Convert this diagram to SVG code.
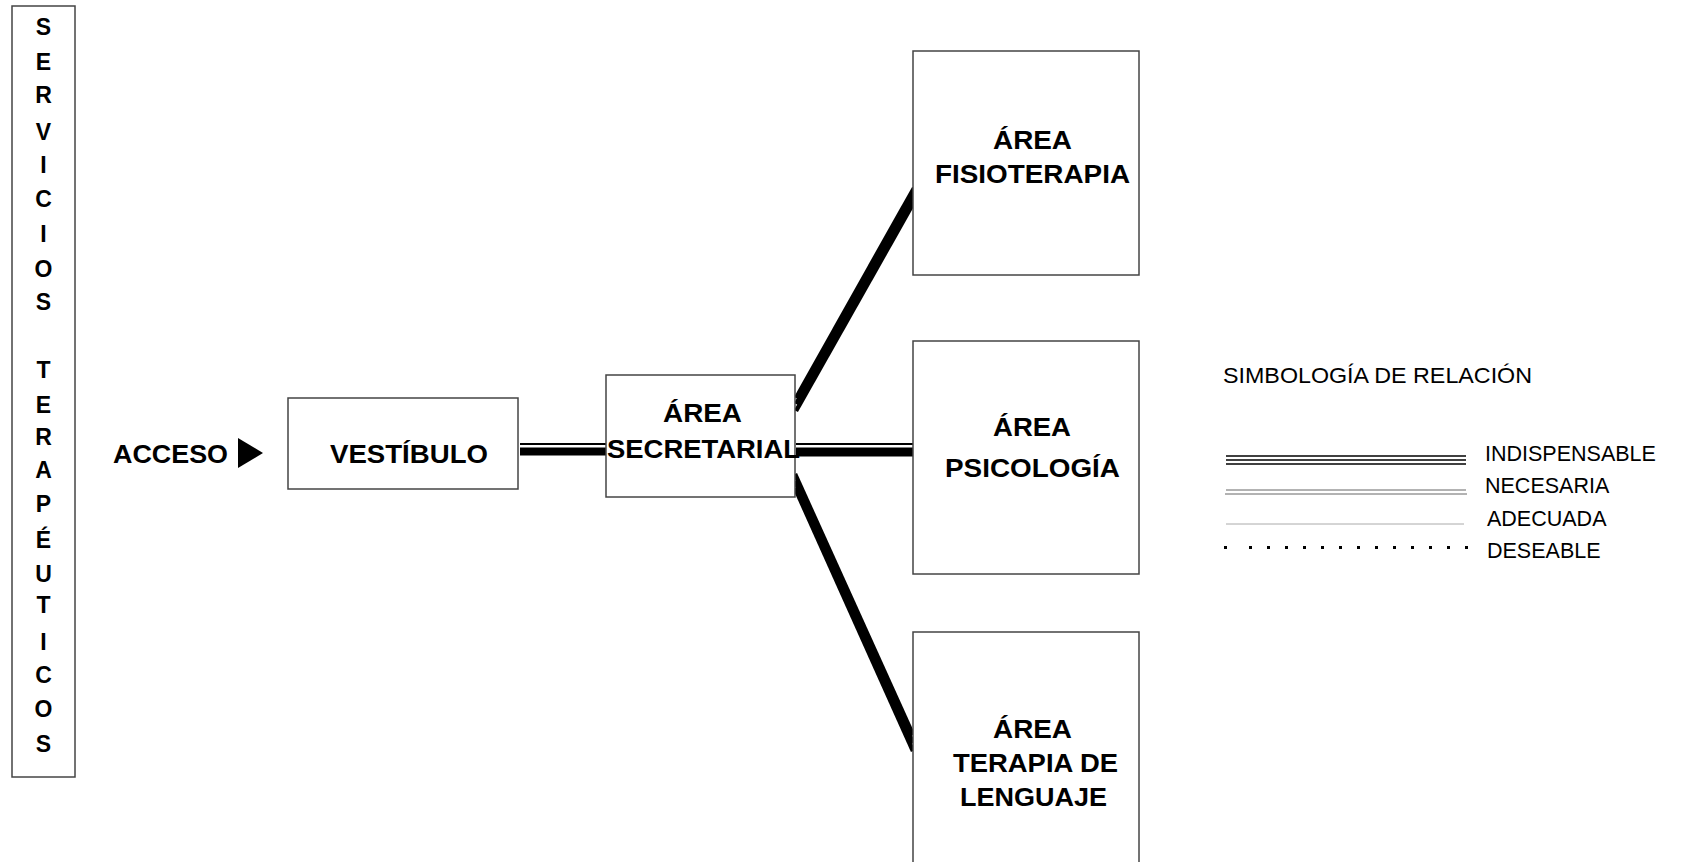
<svg xmlns="http://www.w3.org/2000/svg" width="1684" height="862" viewBox="0 0 1684 862">
<style>
.box{fill:#fff;stroke:#444;stroke-width:1.5}
.lbl{font-family:"Liberation Sans",Arial,sans-serif;font-weight:bold;font-size:26px;fill:#000}
.vt{font-family:"Liberation Sans",Arial,sans-serif;font-weight:bold;font-size:23px;fill:#000;text-anchor:middle}
.leg{font-family:"Liberation Sans",Arial,sans-serif;font-size:21.5px;fill:#000}
.con{stroke:#000;fill:none}
</style>
<rect width="1684" height="862" fill="#fff"/>
<g id="servicios">
<rect class="box" x="12" y="6" width="63" height="771"/>
<text class="vt" x="43.5" y="35">S</text>
<text class="vt" x="43.5" y="70">E</text>
<text class="vt" x="43.5" y="103">R</text>
<text class="vt" x="43.5" y="140">V</text>
<text class="vt" x="43.5" y="173">I</text>
<text class="vt" x="43.5" y="207">C</text>
<text class="vt" x="43.5" y="242">I</text>
<text class="vt" x="43.5" y="277">O</text>
<text class="vt" x="43.5" y="310">S</text>
<text class="vt" x="43.5" y="378">T</text>
<text class="vt" x="43.5" y="413">E</text>
<text class="vt" x="43.5" y="445">R</text>
<text class="vt" x="43.5" y="478">A</text>
<text class="vt" x="43.5" y="512">P</text>
<text class="vt" x="43.5" y="548">É</text>
<text class="vt" x="43.5" y="582">U</text>
<text class="vt" x="43.5" y="613">T</text>
<text class="vt" x="43.5" y="650">I</text>
<text class="vt" x="43.5" y="683">C</text>
<text class="vt" x="43.5" y="717">O</text>
<text class="vt" x="43.5" y="752">S</text>
</g>
<g id="acceso">
<text class="lbl" x="113" y="463" textLength="115" lengthAdjust="spacingAndGlyphs">ACCESO</text>
<polygon points="238,438 263,453 238,468" fill="#000"/>
</g>
<g id="connectors">
<line class="con" x1="520" y1="444" x2="607" y2="444" stroke-width="2"/>
<line class="con" x1="520" y1="451.5" x2="607" y2="451.5" stroke-width="8"/>
<line class="con" x1="796" y1="444" x2="915" y2="444" stroke-width="2"/>
<line class="con" x1="796" y1="452" x2="915" y2="452" stroke-width="9"/>
<line class="con" x1="796" y1="398" x2="914" y2="188" stroke-width="4.5"/>
<line class="con" x1="796" y1="404" x2="914" y2="195" stroke-width="4.5"/>
<line class="con" x1="796" y1="411" x2="914" y2="202" stroke-width="4.5"/>
<line class="con" x1="795" y1="474" x2="913" y2="735" stroke-width="4.5"/>
<line class="con" x1="795" y1="481" x2="913" y2="743" stroke-width="4.5"/>
<line class="con" x1="795" y1="488" x2="913" y2="751" stroke-width="4.5"/>
</g>
<g id="vestibulo">
<rect class="box" x="288" y="398" width="230" height="91"/>
<text class="lbl" x="330" y="463" textLength="158" lengthAdjust="spacingAndGlyphs">VESTÍBULO</text>
</g>
<g id="secretarial">
<rect class="box" x="606" y="375" width="189" height="122"/>
<text class="lbl" x="663" y="422" textLength="79" lengthAdjust="spacingAndGlyphs">ÁREA</text>
<text class="lbl" x="607" y="458" textLength="193" lengthAdjust="spacingAndGlyphs">SECRETARIAL</text>
</g>
<g id="fisioterapia">
<rect class="box" x="913" y="51" width="226" height="224"/>
<text class="lbl" x="993" y="149" textLength="79" lengthAdjust="spacingAndGlyphs">ÁREA</text>
<text class="lbl" x="935" y="183" textLength="195" lengthAdjust="spacingAndGlyphs">FISIOTERAPIA</text>
</g>
<g id="psicologia">
<rect class="box" x="913" y="341" width="226" height="233"/>
<text class="lbl" x="993" y="436" textLength="78" lengthAdjust="spacingAndGlyphs">ÁREA</text>
<text class="lbl" x="945" y="477" textLength="175" lengthAdjust="spacingAndGlyphs">PSICOLOGÍA</text>
</g>
<g id="lenguaje">
<rect class="box" x="913" y="632" width="226" height="240"/>
<text class="lbl" x="993" y="738" textLength="79" lengthAdjust="spacingAndGlyphs">ÁREA</text>
<text class="lbl" x="953" y="772" textLength="165" lengthAdjust="spacingAndGlyphs">TERAPIA DE</text>
<text class="lbl" x="960" y="806" textLength="147" lengthAdjust="spacingAndGlyphs">LENGUAJE</text>
</g>
<g id="legend">
<text class="leg" x="1223" y="383" textLength="309" lengthAdjust="spacingAndGlyphs">SIMBOLOGÍA DE RELACIÓN</text>
<line x1="1226" y1="456" x2="1466" y2="456" stroke="#000" stroke-width="1.6"/>
<line x1="1226" y1="460" x2="1466" y2="460" stroke="#000" stroke-width="1.6"/>
<line x1="1226" y1="464" x2="1466" y2="464" stroke="#000" stroke-width="1.6"/>
<text class="leg" x="1485" y="461">INDISPENSABLE</text>
<line x1="1226" y1="490" x2="1466" y2="490" stroke="#666" stroke-width="1"/>
<line x1="1225" y1="494" x2="1467" y2="494" stroke="#666" stroke-width="1"/>
<text class="leg" x="1485" y="493">NECESARIA</text>
<line x1="1226" y1="524" x2="1464" y2="524" stroke="#aaa" stroke-width="1"/>
<text class="leg" x="1487" y="526">ADECUADA</text>
<g fill="#000">
<rect x="1224" y="546" width="3" height="3"/>
<rect x="1249" y="546" width="3" height="3"/>
<rect x="1267" y="546" width="3" height="3"/>
<rect x="1285" y="546" width="3" height="3"/>
<rect x="1303" y="546" width="3" height="3"/>
<rect x="1321" y="546" width="3" height="3"/>
<rect x="1339" y="546" width="3" height="3"/>
<rect x="1357" y="546" width="3" height="3"/>
<rect x="1375" y="546" width="3" height="3"/>
<rect x="1393" y="546" width="3" height="3"/>
<rect x="1411" y="546" width="3" height="3"/>
<rect x="1429" y="546" width="3" height="3"/>
<rect x="1447" y="546" width="3" height="3"/>
<rect x="1465" y="546" width="3" height="3"/>
</g>
<text class="leg" x="1487" y="558">DESEABLE</text>
</g>
</svg>
